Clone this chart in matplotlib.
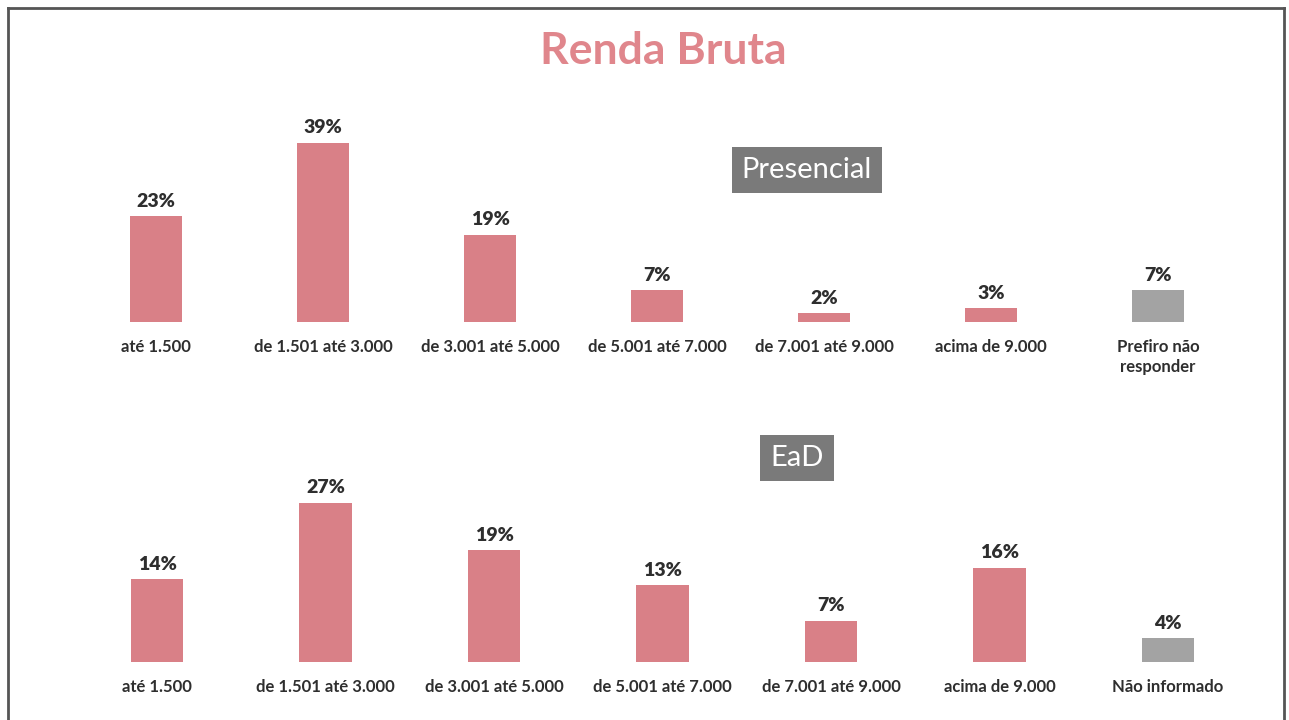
import matplotlib.pyplot as plt
from matplotlib.lines import Line2D

plt.rcParams['font.family'] = ['Lato', 'DejaVu Sans']

# dados
cats_presencial = ['até 1.500', 'de 1.501 até 3.000', 'de 3.001 até 5.000',
                   'de 5.001 até 7.000', 'de 7.001 até 9.000', 'acima de 9.000',
                   'Prefiro não\nresponder']
vals_presencial = [23, 39, 19, 7, 2, 3, 7]

cats_ead = ['até 1.500', 'de 1.501 até 3.000', 'de 3.001 até 5.000',
            'de 5.001 até 7.000', 'de 7.001 até 9.000', 'acima de 9.000',
            'Não informado']
vals_ead = [14, 27, 19, 13, 7, 16, 4]

PINK = '#D98087'
GRAY = '#A3A3A3'
TEXT = '#2E2E2E'

W, H = 1289, 720
fig = plt.figure(figsize=(W / 100, H / 100), dpi=100)
fig.patch.set_facecolor('white')


def px_axes(left, top, width, height):
    return fig.add_axes([left / W, 1 - (top + height) / H, width / W, height / H])


def draw_panel(ax, cats, vals, ymax, label_off):
    colors = [PINK] * (len(vals) - 1) + [GRAY]
    x = range(len(vals))
    ax.bar(x, vals, width=0.31, color=colors)
    for xi, v in zip(x, vals):
        ax.annotate(f'{v}%', (xi, v), xytext=(0, label_off), textcoords='offset points',
                    ha='center', va='bottom', fontsize=14, fontweight='heavy', color=TEXT)
    ax.set_xlim(-0.5, len(vals) - 0.5)
    ax.set_ylim(0, ymax)
    ax.set_xticks(list(x))
    ax.set_xticklabels(cats, fontsize=12, fontweight='bold', color=TEXT, linespacing=1.3)
    ax.tick_params(axis='x', length=0, pad=12)
    ax.set_yticks([])
    for s in ax.spines.values():
        s.set_visible(False)
    ax.patch.set_alpha(0)


# painel presencial: linha de base em y=322 px, 4.6 px por %
ax1 = px_axes(72.5, 322 - 45 * 4.6, 1169, 45 * 4.6)
draw_panel(ax1, cats_presencial, vals_presencial, 45, 4.5)

# painel EaD: linha de base em y=662 px, 5.9 px por %
ax2 = px_axes(72.75, 662 - 30 * 5.9, 1179.5, 30 * 5.9)
draw_panel(ax2, cats_ead, vals_ead, 30, 4.5)

fig.text(663 / W, 1 - 51 / H, 'Renda Bruta', ha='center', va='center',
         fontsize=32, fontweight='bold', color='#E0868C')

box = dict(boxstyle='square,pad=0.35', facecolor='#7A7A7A', edgecolor='none')
fig.text(807 / W, 1 - 170 / H, 'Presencial', ha='center', va='center',
         fontsize=21, color='white', bbox=box)
fig.text(797 / W, 1 - 458 / H, 'EaD', ha='center', va='center',
         fontsize=21, color='white', bbox=box)

# moldura
frame = dict(color='#555555', linewidth=2, transform=fig.transFigure)
fig.add_artist(Line2D([8 / W, 1284 / W], [1 - 8 / H, 1 - 8 / H], **frame))
fig.add_artist(Line2D([8 / W, 8 / W], [1 - 8 / H, 0], **frame))
fig.add_artist(Line2D([1284 / W, 1284 / W], [1 - 8 / H, 0], **frame))

fig.savefig('out.png', dpi=100)
